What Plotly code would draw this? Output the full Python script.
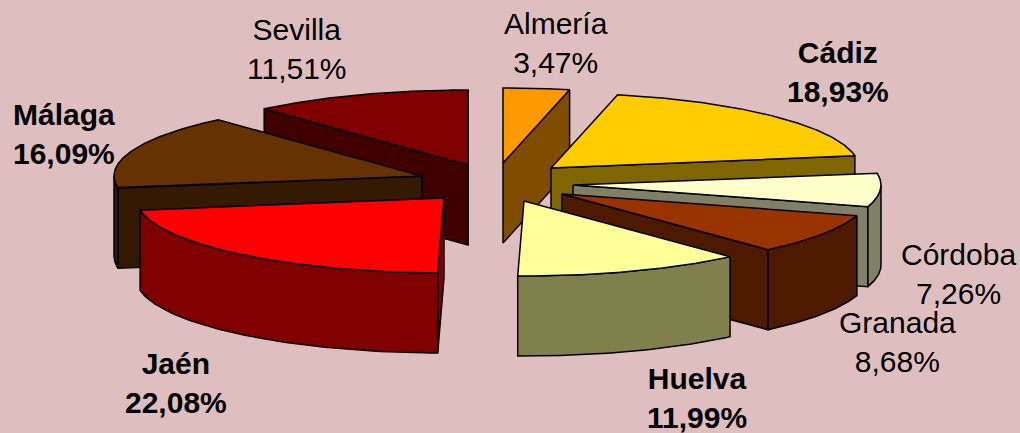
import numpy as np
import plotly.graph_objects as go

# ---- data ----
provinces = ["Almería", "Cádiz", "Córdoba", "Granada", "Huelva", "Jaén", "Málaga", "Sevilla"]
shares = [3.47, 18.93, 7.26, 8.68, 11.99, 22.08, 16.09, 11.51]

# ---- styles ----
top_colors = ["#FF9900", "#FFCC00", "#FFFFCC", "#993300", "#FFFF99", "#FF0000", "#663300", "#800000"]
wall_colors = ["#804D00", "#806600", "#808066", "#4D1A00", "#80804D", "#800000", "#331A00", "#400000"]
bold_label = [False, True, False, False, True, True, True, False]

# ---- layout of the exploded pie (axis units = pixels) ----
apex_x = [503, 551, 573, 562, 524, 444, 422, 468]
apex_y = [163, 168, 185, 194, 201, 198, 176, 165]
label_x = [556, 838, 958, 897, 697, 176, 64, 297]
label_y = [43, 72, 274, 342, 398, 383, 134, 49]
RX, RY, DEPTH = 308, 75, 80
draw_order = [7, 6, 5, 0, 1, 2, 3, 4]
BG = "#DFBEC0"

total = sum(shares)
ends = np.cumsum(shares) / total * 2 * np.pi
starts = np.concatenate([[0], ends[:-1]])


def rim(cx, cy, a):
    return cx + RX * np.sin(a), cy - RY * np.cos(a)


fig = go.Figure()


def poly(xs, ys, color):
    fig.add_trace(go.Scatter(
        x=list(xs) + [xs[0]], y=list(ys) + [ys[0]], mode="lines", fill="toself",
        fillcolor=color, line=dict(color="#000000", width=1.5),
        hoverinfo="skip", showlegend=False))


for i in draw_order:
    cx, cy = apex_x[i], apex_y[i]
    a0, a1 = starts[i], ends[i]
    wall = wall_colors[i]
    # radial walls facing the viewer
    if np.sin(a0) < 0:
        x, y = rim(cx, cy, a0)
        poly([cx, x, x, cx], [cy, y, y + DEPTH, cy + DEPTH], wall)
    if np.sin(a1) > 0:
        x, y = rim(cx, cy, a1)
        poly([cx, x, x, cx], [cy, y, y + DEPTH, cy + DEPTH], wall)
    # outer wall: only the front half of the rim is visible
    lo, hi = max(a0, np.pi / 2), min(a1, 3 * np.pi / 2)
    if hi > lo:
        t = np.linspace(lo, hi, 60)
        x, y = rim(cx, cy, t)
        poly(np.concatenate([x, x[::-1]]), np.concatenate([y, y[::-1] + DEPTH]), wall)
    # top face
    t = np.linspace(a0, a1, 120)
    x, y = rim(cx, cy, t)
    poly(np.concatenate([[cx], x]), np.concatenate([[cy], y]), top_colors[i])

for i, name in enumerate(provinces):
    pct = f"{shares[i]:.2f}".replace(".", ",") + "%"
    text = f"{name}<br>{pct}"
    if bold_label[i]:
        text = f"<b>{name}</b><br><b>{pct}</b>"
    fig.add_annotation(x=label_x[i], y=label_y[i], xref="x", yref="y", text=text,
                       showarrow=False, xanchor="center", yanchor="middle", align="center",
                       font=dict(family="Liberation Sans, Arial, sans-serif", size=30, color="#000000"))

fig.update_layout(
    width=1020, height=433, margin=dict(l=0, r=0, t=0, b=0),
    paper_bgcolor=BG, plot_bgcolor=BG, showlegend=False,
    xaxis=dict(range=[0, 1020], visible=False, fixedrange=True),
    yaxis=dict(range=[433, 0], visible=False, fixedrange=True),
)
fig.write_html("out.html", config={"displayModeBar": False},
               post_script="document.body.style.margin='0';document.body.style.overflow='hidden';"
                           "document.body.style.background='" + BG + "';")
